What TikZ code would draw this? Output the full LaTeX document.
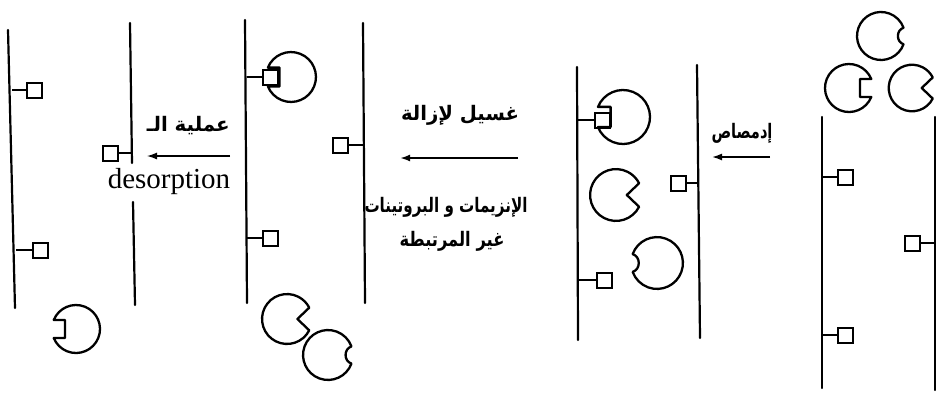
\documentclass[tikz,border=0pt]{standalone}
\usepackage{fontspec}
\setmainfont{Liberation Serif}
\newfontfamily\arabicfont[Script=Arabic]{DejaVu Sans}
\TeXXeTstate=1
\usetikzlibrary{arrows.meta}

% caption squeezed horizontally to a given width
\newcommand{\arcap}[2]{\resizebox{#1}{\height}{#2}}

\tikzset{
  membrane/.style={line width=2.2pt, line cap=round},
  site/.style={draw, line width=2pt, minimum size=15pt, inner sep=0pt, outer sep=0pt},
  stub/.style={line width=2pt},
  enzline/.style={line width=2.3pt, line join=round},
  flow/.style={-{Latex[length=10pt,width=7pt]}, line width=1.6pt},
  arlabel/.style={font=\arabicfont\bfseries\fontsize{20}{24}\selectfont, inner sep=0pt},
  latlabel/.style={font=\fontsize{29}{32}\selectfont, inner sep=0pt},
  % enzyme with a square binding pocket opening towards +x
  pics/notched/.style={code={
    \draw[enzline] (22.25,9) arc[start angle=22.02, end angle=337.98, radius=24]
      -- (11,-9) -- (11,9) -- cycle;}},
  % enzyme with a wedge-shaped mouth opening towards +x
  pics/wedged/.style={code={
    \draw[enzline] (10,0) -- (27:24) arc[start angle=27, end angle=333, radius=24] -- cycle;}},
  % enzyme with a shallow rounded dent towards +x
  pics/dented/.style={code={
    \draw[enzline] (22.55,8.2) arc[start angle=20, end angle=340, radius=24]
      .. controls (15,-6) and (15,6) .. (22.55,8.2) -- cycle;}},
}

\begin{document}
\begin{tikzpicture}[x=1pt, y=-1pt]
\useasboundingbox (0,0) rectangle (939,400);

% ---------- column 1: after desorption ----------
\draw[membrane] (8,30) -- (15,308);
\node[site] (s1) at (34,90) {};
\draw[stub] (s1.west) -- ++(-15,0);
\node[site] (s2) at (40,250) {};
\draw[stub] (s2.west) -- ++(-17,0);

\draw[membrane] (130,23) -- (132,163);
\draw[membrane] (133,202) -- (135,305);
\node[site] (s3) at (110,153) {};
\draw[stub] (s3.east) -- ++(13,0);

\pic[rotate=180] at (76,329) {notched};

% desorption step
\coordinate (a1s) at (230,156);
\coordinate (a1e) at (147,156);
\draw[flow, line width=1.3pt] (a1s) -- (a1e);
\node[arlabel, anchor=east] (t1) at (230,126) {\arcap{83pt}{\beginR عملية الـ\endR}};
\node[latlabel] (t2) at (169,182) {desorption};

% ---------- column 2: after washing ----------
\draw[membrane] (245,20) -- (247,303);
\pic[rotate=180, scale=1.04] at (291,77) {notched};
\node[site] (s4) at (270,77) {};
\draw[stub] (s4.west) -- ++(-16,0);
\node[site] (s5) at (270,238) {};
\draw[stub] (s5.west) -- ++(-16,0);

\draw[membrane] (363,23) -- (365,303);
\node[site] (s6) at (340,145) {};
\draw[stub] (s6.east) -- ++(16,0);

\pic[scale=1.04] at (287,319) {wedged};
\pic[scale=1.04] at (328,355) {dented};

% washing step
\coordinate (a2s) at (518,158);
\coordinate (a2e) at (400,158);
\draw[flow, line width=2.4pt] (a2s) -- (a2e);
\node[arlabel] (t3) at (460,115) {\arcap{118pt}{\beginR غسيل لإزالة\endR}};
\node[arlabel] (t4) at (446,207) {\arcap{163pt}{\beginR الإنزيمات و البروتينات\endR}};
\node[arlabel] (t5) at (452,241) {\arcap{105pt}{\beginR غير المرتبطة\endR}};

% ---------- column 3: after adsorption ----------
\draw[membrane] (577,67) -- (578,340);
\pic[rotate=180, scale=1.125] at (623,117) {notched};
\node[site] (s7) at (602,120) {};
\draw[stub] (s7.west) -- ++(-17,0);
\pic[scale=1.08] at (616,195) {wedged};
\pic[rotate=180, scale=1.08] at (657,263) {dented};
\node[site] (s8) at (604,280) {};
\draw[stub] (s8.west) -- ++(-18,0);

\draw[membrane] (697,65) -- (700,338);
\node[site] (s9) at (678,183) {};
\draw[stub] (s9.east) -- ++(11,0);

% adsorption step
\coordinate (a3s) at (770,157);
\coordinate (a3e) at (712,157);
\draw[flow, line width=1.6pt] (a3s) -- (a3e);
\node[arlabel] (t6) at (742,133) {\arcap{61pt}{\beginR إدمصاص\endR}};

% ---------- column 4: starting state ----------
\draw[membrane] (822,117) -- (822,388);
\node[site] (s10) at (845,177) {};
\draw[stub] (s10.west) -- ++(-15,0);
\node[site] (s11) at (845,335) {};
\draw[stub] (s11.west) -- ++(-15,0);

\draw[membrane] (935,117) -- (935,390);
\node[site] (s12) at (912,243) {};
\draw[stub] (s12.east) -- ++(15,0);

\pic at (881,36) {dented};
\pic at (849,88) {notched};
\pic[scale=0.97] at (912,88) {wedged};
\end{tikzpicture}
\end{document}
